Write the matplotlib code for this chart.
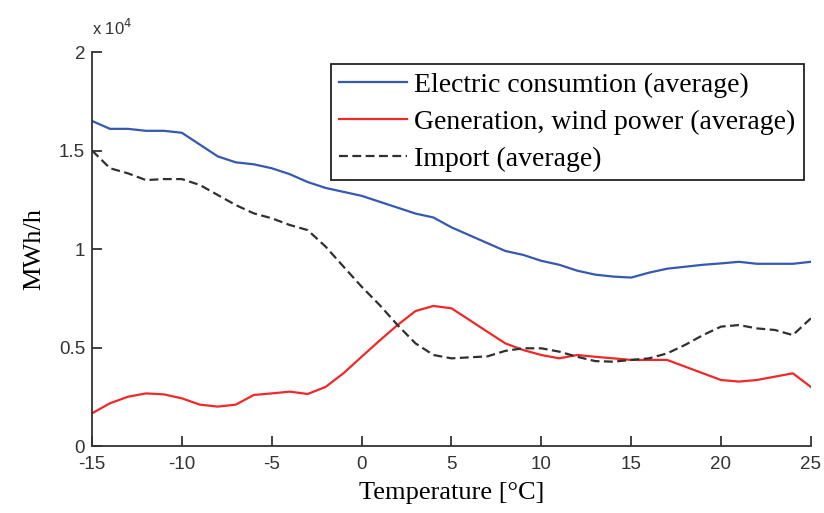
import numpy as np
import matplotlib
matplotlib.use("Agg")
import matplotlib.pyplot as plt

# temperature bins (deg C) and averages in units of 1e4 MWh/h
temperature = np.arange(-15, 26)
consumption = [1.65, 1.61, 1.61, 1.60, 1.60, 1.59, 1.53, 1.47, 1.44, 1.43, 1.41,
               1.38, 1.34, 1.31, 1.29, 1.27, 1.24, 1.21, 1.18, 1.16, 1.11,
               1.07, 1.03, 0.99, 0.97, 0.94, 0.92, 0.89, 0.87, 0.86, 0.855,
               0.88, 0.90, 0.91, 0.92, 0.927, 0.935, 0.925, 0.925, 0.925, 0.935]
wind = [0.166, 0.217, 0.25, 0.267, 0.262, 0.242, 0.21, 0.20, 0.21, 0.259, 0.267,
        0.276, 0.264, 0.30, 0.37, 0.453, 0.535, 0.614, 0.685, 0.711, 0.699,
        0.64, 0.58, 0.521, 0.487, 0.462, 0.445, 0.462, 0.453, 0.445, 0.437,
        0.437, 0.437, 0.403, 0.369, 0.335, 0.327, 0.335, 0.352, 0.369, 0.30]
imports = [1.50, 1.41, 1.384, 1.35, 1.355, 1.355, 1.325, 1.274, 1.223, 1.181, 1.156,
           1.122, 1.096, 1.012, 0.91, 0.809, 0.716, 0.614, 0.521, 0.462, 0.445,
           0.45, 0.455, 0.483, 0.496, 0.496, 0.479, 0.453, 0.431, 0.428, 0.437,
           0.445, 0.47, 0.513, 0.563, 0.606, 0.614, 0.597, 0.589, 0.563, 0.648]

serif = "Liberation Serif"
sans = "Liberation Sans"
plt.rcParams["axes.unicode_minus"] = False

fig = plt.figure(figsize=(8.24, 5.13), dpi=100)
ax = fig.add_axes([0.1117, 0.1306, 0.8723, 0.768])

ax.plot(temperature, consumption, color="#3558b0", lw=1.6, label="Electric consumtion (average)")
ax.plot(temperature, wind, color="#f02828", lw=1.6, label="Generation, wind power (average)")
ax.plot(temperature, imports, color="#303030", lw=1.6, ls=(0, (4, 2)), label="Import (average)")

ax.set_xlim(-15, 25)
ax.set_ylim(0, 2)
ax.set_xticks(np.arange(-15, 26, 5))
ax.set_yticks([0, 0.5, 1, 1.5, 2])
ax.set_yticklabels(["0", "0.5", "1", "1.5", "2"])
for s in ["top", "right"]:
    ax.spines[s].set_visible(False)
for s in ["left", "bottom"]:
    ax.spines[s].set_linewidth(1.3)
    ax.spines[s].set_color("#333333")
ax.tick_params(direction="in", length=7, width=1.3, color="#333333", labelsize=13.5)
ax.tick_params(axis="x", pad=7)
ax.tick_params(axis="y", pad=5)
for lab in ax.get_xticklabels() + ax.get_yticklabels():
    lab.set_family(sans)
    lab.set_color("#333333")

ax.set_xlabel("Temperature [°C]", family=serif, fontsize=19, labelpad=7)
ax.set_ylabel("MWh/h", family=serif, fontsize=19, labelpad=10)
ax.text(0.0, 1.035, "x 10$^4$", transform=ax.transAxes, family=sans, fontsize=12,
        color="#333333", ha="left", va="bottom")

leg = ax.legend(loc="upper right", bbox_to_anchor=(0.99, 0.97), prop={"family": serif, "size": 20},
                handlelength=2.45, handletextpad=0.25, borderpad=0.3, labelspacing=0.42,
                borderaxespad=0.0, frameon=True, fancybox=False, framealpha=1)
leg.get_frame().set_edgecolor("#222222")
leg.get_frame().set_linewidth(1.3)

fig.savefig("out.png", dpi=100)
